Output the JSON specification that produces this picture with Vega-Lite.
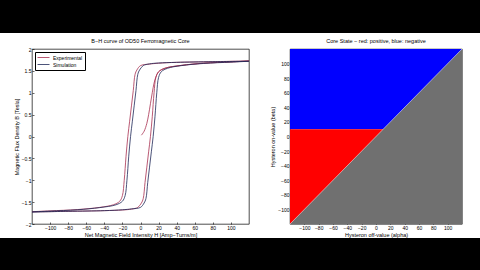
{
  "$schema": "https://vega.github.io/schema/vega-lite/v6.json",
  "background": "white",
  "padding": 0,
  "spacing": 0,
  "resolve": {"scale": {"stroke": "independent"}, "legend": {"stroke": "independent"}},
  "config": {
    "font": "Liberation Sans",
    "view": {"stroke": "black", "strokeWidth": 0.7},
    "axis": {"labelFontSize": 5, "titleFontSize": 5.5, "titleFontWeight": "normal", "labelColor": "black", "titleColor": "black", "tickColor": "black", "grid": false, "domain": false, "tickSize": -2, "labelPadding": 3, "tickWidth": 0.6, "titlePadding": 2, "labelOverlap": false},
    "title": {"fontSize": 5.5, "fontWeight": "normal", "color": "black", "offset": 3}
  },
  "datasets": {
    "bh": [
      {"series": "Experimental", "i": 1, "H": 1, "B": 0.03},
      {"series": "Experimental", "i": 2, "H": 4, "B": 0.12},
      {"series": "Experimental", "i": 3, "H": 7, "B": 0.3},
      {"series": "Experimental", "i": 4, "H": 9, "B": 0.5},
      {"series": "Experimental", "i": 5, "H": 11, "B": 0.75},
      {"series": "Experimental", "i": 6, "H": 13, "B": 1.0},
      {"series": "Experimental", "i": 7, "H": 15, "B": 1.22},
      {"series": "Experimental", "i": 8, "H": 17, "B": 1.36},
      {"series": "Experimental", "i": 9, "H": 20, "B": 1.48},
      {"series": "Experimental", "i": 10, "H": 27, "B": 1.56},
      {"series": "Experimental", "i": 11, "H": 45, "B": 1.625},
      {"series": "Experimental", "i": 12, "H": 70, "B": 1.675},
      {"series": "Experimental", "i": 13, "H": 100, "B": 1.705},
      {"series": "Experimental", "i": 14, "H": 120, "B": 1.725},
      {"series": "Experimental", "i": 15, "H": 80, "B": 1.71},
      {"series": "Experimental", "i": 16, "H": 40, "B": 1.695},
      {"series": "Experimental", "i": 17, "H": 20, "B": 1.675},
      {"series": "Experimental", "i": 18, "H": 10, "B": 1.655},
      {"series": "Experimental", "i": 19, "H": 0, "B": 1.62},
      {"series": "Experimental", "i": 20, "H": -4, "B": 1.52},
      {"series": "Experimental", "i": 21, "H": -6, "B": 1.42},
      {"series": "Experimental", "i": 22, "H": -8, "B": 1.05},
      {"series": "Experimental", "i": 23, "H": -10, "B": 0.7},
      {"series": "Experimental", "i": 24, "H": -12, "B": 0.35},
      {"series": "Experimental", "i": 25, "H": -14, "B": 0},
      {"series": "Experimental", "i": 26, "H": -16, "B": -0.45},
      {"series": "Experimental", "i": 27, "H": -18, "B": -1.0},
      {"series": "Experimental", "i": 28, "H": -20, "B": -1.35},
      {"series": "Experimental", "i": 29, "H": -23, "B": -1.48},
      {"series": "Experimental", "i": 30, "H": -30, "B": -1.56},
      {"series": "Experimental", "i": 31, "H": -45, "B": -1.62},
      {"series": "Experimental", "i": 32, "H": -70, "B": -1.67},
      {"series": "Experimental", "i": 33, "H": -100, "B": -1.70},
      {"series": "Experimental", "i": 34, "H": -120, "B": -1.72},
      {"series": "Experimental", "i": 35, "H": -80, "B": -1.71},
      {"series": "Experimental", "i": 36, "H": -40, "B": -1.695},
      {"series": "Experimental", "i": 37, "H": -20, "B": -1.68},
      {"series": "Experimental", "i": 38, "H": -10, "B": -1.66},
      {"series": "Experimental", "i": 39, "H": -3, "B": -1.62},
      {"series": "Experimental", "i": 40, "H": 1, "B": -1.52},
      {"series": "Experimental", "i": 41, "H": 3, "B": -1.42},
      {"series": "Experimental", "i": 42, "H": 5, "B": -1.05},
      {"series": "Experimental", "i": 43, "H": 7, "B": -0.7},
      {"series": "Experimental", "i": 44, "H": 9, "B": -0.35},
      {"series": "Experimental", "i": 45, "H": 11, "B": 0},
      {"series": "Experimental", "i": 46, "H": 13, "B": 0.45},
      {"series": "Experimental", "i": 47, "H": 15, "B": 1.0},
      {"series": "Experimental", "i": 48, "H": 17, "B": 1.35},
      {"series": "Experimental", "i": 49, "H": 20, "B": 1.48},
      {"series": "Experimental", "i": 50, "H": 27, "B": 1.56},
      {"series": "Experimental", "i": 51, "H": 45, "B": 1.625},
      {"series": "Experimental", "i": 52, "H": 70, "B": 1.675},
      {"series": "Experimental", "i": 53, "H": 100, "B": 1.705},
      {"series": "Experimental", "i": 54, "H": 120, "B": 1.725},
      {"series": "Simulation", "i": 1, "H": 120, "B": 1.72},
      {"series": "Simulation", "i": 2, "H": 80, "B": 1.71},
      {"series": "Simulation", "i": 3, "H": 40, "B": 1.695},
      {"series": "Simulation", "i": 4, "H": 20, "B": 1.68},
      {"series": "Simulation", "i": 5, "H": 10, "B": 1.66},
      {"series": "Simulation", "i": 6, "H": 3, "B": 1.62},
      {"series": "Simulation", "i": 7, "H": -1, "B": 1.52},
      {"series": "Simulation", "i": 8, "H": -3, "B": 1.42},
      {"series": "Simulation", "i": 9, "H": -5, "B": 1.05},
      {"series": "Simulation", "i": 10, "H": -7, "B": 0.7},
      {"series": "Simulation", "i": 11, "H": -9, "B": 0.35},
      {"series": "Simulation", "i": 12, "H": -11, "B": 0},
      {"series": "Simulation", "i": 13, "H": -13, "B": -0.45},
      {"series": "Simulation", "i": 14, "H": -15, "B": -1.0},
      {"series": "Simulation", "i": 15, "H": -17, "B": -1.35},
      {"series": "Simulation", "i": 16, "H": -20, "B": -1.48},
      {"series": "Simulation", "i": 17, "H": -27, "B": -1.56},
      {"series": "Simulation", "i": 18, "H": -45, "B": -1.625},
      {"series": "Simulation", "i": 19, "H": -70, "B": -1.675},
      {"series": "Simulation", "i": 20, "H": -100, "B": -1.705},
      {"series": "Simulation", "i": 21, "H": -120, "B": -1.725},
      {"series": "Simulation", "i": 22, "H": -80, "B": -1.71},
      {"series": "Simulation", "i": 23, "H": -40, "B": -1.695},
      {"series": "Simulation", "i": 24, "H": -20, "B": -1.675},
      {"series": "Simulation", "i": 25, "H": -10, "B": -1.655},
      {"series": "Simulation", "i": 26, "H": 0, "B": -1.62},
      {"series": "Simulation", "i": 27, "H": 4, "B": -1.52},
      {"series": "Simulation", "i": 28, "H": 6, "B": -1.42},
      {"series": "Simulation", "i": 29, "H": 8, "B": -1.05},
      {"series": "Simulation", "i": 30, "H": 10, "B": -0.7},
      {"series": "Simulation", "i": 31, "H": 12, "B": -0.35},
      {"series": "Simulation", "i": 32, "H": 14, "B": 0},
      {"series": "Simulation", "i": 33, "H": 16, "B": 0.45},
      {"series": "Simulation", "i": 34, "H": 18, "B": 1.0},
      {"series": "Simulation", "i": 35, "H": 20, "B": 1.35},
      {"series": "Simulation", "i": 36, "H": 23, "B": 1.48},
      {"series": "Simulation", "i": 37, "H": 30, "B": 1.56},
      {"series": "Simulation", "i": 38, "H": 45, "B": 1.62},
      {"series": "Simulation", "i": 39, "H": 70, "B": 1.67},
      {"series": "Simulation", "i": 40, "H": 100, "B": 1.70},
      {"series": "Simulation", "i": 41, "H": 120, "B": 1.72}
    ]
  },
  "vconcat": [
    {"width": 480, "height": 33, "view": {"fill": "black", "stroke": null}, "data": {"values": [{}]}, "mark": {"type": "rect", "color": "black"}, "encoding": {}},
    {"width": 1, "height": 5, "view": {"stroke": null}, "data": {"values": []}, "mark": "point"},
    {
      "spacing": 0,
      "resolve": {"scale": {"stroke": "independent"}, "legend": {"stroke": "independent"}},
      "hconcat": [
        {"width": 13, "height": 1, "view": {"stroke": null}, "data": {"values": []}, "mark": "point"},
        {
          "width": 217,
          "height": 175,
          "title": {"text": "B−H curve of OD50 Ferromagnetic Core"},
          "data": {"name": "bh"},
          "mark": {"type": "line", "strokeWidth": 0.8, "interpolate": "catmull-rom"},
          "encoding": {
            "x": {"field": "H", "type": "quantitative", "scale": {"domain": [-120, 120], "nice": false, "zero": false},
                  "axis": {"values": [-100, -80, -60, -40, -20, 0, 20, 40, 60, 80, 100], "format": "d", "title": "Net Magnetic Field Intensity H [Amp−Turns/m]", "labelOverlap": false}},
            "y": {"field": "B", "type": "quantitative", "scale": {"domain": [-2, 2], "nice": false, "zero": false},
                  "axis": {"values": [-2, -1.5, -1, -0.5, 0, 0.5, 1, 1.5, 2], "format": ".1~f", "title": "Magnetic Flux Density B [Tesla]", "labelOverlap": false}},
            "stroke": {"field": "series", "type": "nominal",
                      "scale": {"domain": ["Experimental", "Simulation"], "range": ["#a83050", "#202858"]},
                      "legend": {"orient": "top-left", "offset": 3, "title": null, "labelFontSize": 5, "labelColor": "black", "symbolType": "M-1,0H3", "symbolSize": 36, "symbolStrokeWidth": 0.8, "strokeColor": "black", "fillColor": "white", "padding": 2, "rowPadding": 0, "labelOffset": 9}},
            "order": {"field": "i", "type": "quantitative"}
          }
        },
        {"width": 19, "height": 1, "view": {"stroke": null}, "data": {"values": []}, "mark": "point"},
        {
          "width": 172,
          "height": 175,
          "title": {"text": "Core State − red: positive, blue: negative"},
          "encoding": {
            "x": {"field": "a", "type": "quantitative", "scale": {"domain": [-120, 120], "nice": false, "zero": false},
                  "axis": {"values": [-100, -80, -60, -40, -20, 0, 20, 40, 60, 80, 100], "format": "d", "title": "Hysteron off-value (alpha)", "labelOverlap": false}},
            "y": {"field": "y0", "type": "quantitative", "scale": {"domain": [-120, 120], "nice": false, "zero": false},
                  "axis": {"values": [-100, -80, -60, -40, -20, 0, 20, 40, 60, 80, 100], "format": "d", "title": "Hysteron on-value (beta)", "labelOverlap": false}}
          },
          "layer": [
            {
              "data": {"values": [{"a": -120, "a2": 120, "y0": 10, "y1": 120}]},
              "mark": {"type": "rect", "color": "#0000ff"},
              "encoding": {"x2": {"field": "a2"}, "y2": {"field": "y1"}}
            },
            {
              "data": {"values": [{"a": -120, "a2": 120, "y0": -120, "y1": 10}]},
              "mark": {"type": "rect", "color": "#ff0000"},
              "encoding": {"x2": {"field": "a2"}, "y2": {"field": "y1"}}
            },
            {
              "data": {"values": [{"a": -120, "y0": -120, "y1": -120}, {"a": 120, "y0": -120, "y1": 120}]},
              "mark": {"type": "area", "color": "#707070", "opacity": 1},
              "encoding": {"y2": {"field": "y1"}}
            },
            {
              "data": {"values": [{"a": -120, "y0": -120}, {"a": 120, "y0": 120}]},
              "mark": {"type": "line", "color": "white", "opacity": 0.5, "strokeWidth": 1},
              "encoding": {}
            }
          ]
        }
      ]
    },
    {"width": 480, "height": 40, "view": {"fill": "black", "stroke": null}, "data": {"values": [{}]}, "mark": {"type": "rect", "color": "black"}, "encoding": {}}
  ]
}
